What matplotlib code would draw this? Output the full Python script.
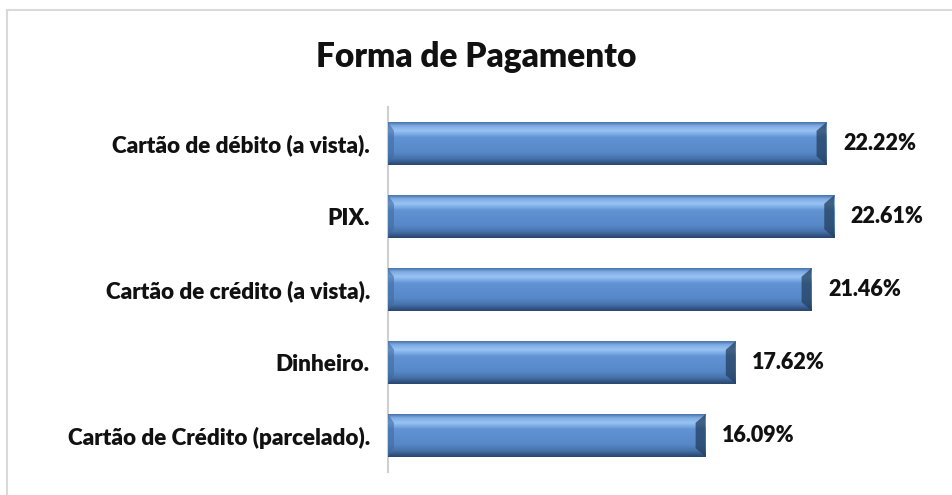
import numpy as np
import matplotlib
matplotlib.use("Agg")
import matplotlib.pyplot as plt
from matplotlib.colors import LinearSegmentedColormap
from matplotlib.patches import Polygon
from matplotlib.lines import Line2D

# data
categorias = ["Cartão de débito (a vista).", "PIX.", "Cartão de crédito (a vista).",
              "Dinheiro.", "Cartão de Crédito (parcelado)."]
percentuais = [22.22, 22.61, 21.46, 17.62, 16.09]

plt.rcParams['font.family'] = ['Lato', 'DejaVu Sans']

fig = plt.figure(figsize=(9.52, 4.95), dpi=100)
ax = fig.add_axes([0.4076, 0.0465, 0.5693, 0.7374])

y = np.arange(len(categorias))
bars = ax.barh(y, percentuais, height=0.58, color="#5586c8", zorder=2)
ax.set_xlim(0, 27.47)
ax.set_ylim(len(categorias) - 0.5, -0.5)

# bevelled look: vertical gradient clipped to each bar + dark ends
grad = LinearSegmentedColormap.from_list("bevel", [
    (0.00, "#4a75aa"), (0.08, "#7eaae3"), (0.20, "#98c4f4"), (0.35, "#6193d4"),
    (0.70, "#5789c9"), (0.85, "#4773ab"), (0.95, "#325482"), (1.00, "#29476e")])
col = np.linspace(0, 1, 100).reshape(-1, 1)
bev = 0.5
for b in bars:
    x0, w = b.get_x(), b.get_width()
    y0, h = b.get_y(), b.get_height()
    im = ax.imshow(col, cmap=grad, aspect="auto", origin="upper",
                   extent=(x0, x0 + w, y0 + h, y0), zorder=3)
    im.set_clip_path(b)
    x1 = x0 + w
    ax.add_patch(Polygon([(x1, y0), (x1, y0 + h), (x1 - bev, y0 + h * 0.8),
                          (x1 - bev, y0 + h * 0.2)], closed=True,
                         facecolor="#24405f", alpha=0.75, lw=0, zorder=4))
    ax.add_patch(Polygon([(x0, y0), (x0, y0 + h), (x0 + bev * 0.6, y0 + h * 0.8),
                          (x0 + bev * 0.6, y0 + h * 0.2)], closed=True,
                         facecolor="#3f6aa0", alpha=0.6, lw=0, zorder=4))
    ax.annotate(f"{w:.2f}%", (x1, y0 + h / 2), xytext=(12, 0), textcoords="offset points",
                va="center", ha="left", fontsize=15.5, fontweight="heavy", color="#111111")

ax.set_yticks(y)
ax.set_yticklabels(categorias, fontsize=16.2, fontweight="heavy", color="#111111")
ax.tick_params(axis="y", length=0, pad=13)
ax.set_xticks([])
for s in ["top", "right", "bottom"]:
    ax.spines[s].set_visible(False)
ax.spines["left"].set_color("#d0d0d0")
ax.spines["left"].set_linewidth(1.5)

fig.text(0.5, 0.885, "Forma de Pagamento", ha="center", va="center",
         fontsize=24, fontweight="heavy", color="#111111")

# outer chart frame (top and left only visible)
fig.add_artist(Line2D([7 / 952, 1], [1 - 10 / 495] * 2, color="#d9d9d9", lw=1.5))
fig.add_artist(Line2D([7 / 952] * 2, [0, 1 - 10 / 495], color="#d9d9d9", lw=1.5))

fig.savefig("out.png", dpi=100)
